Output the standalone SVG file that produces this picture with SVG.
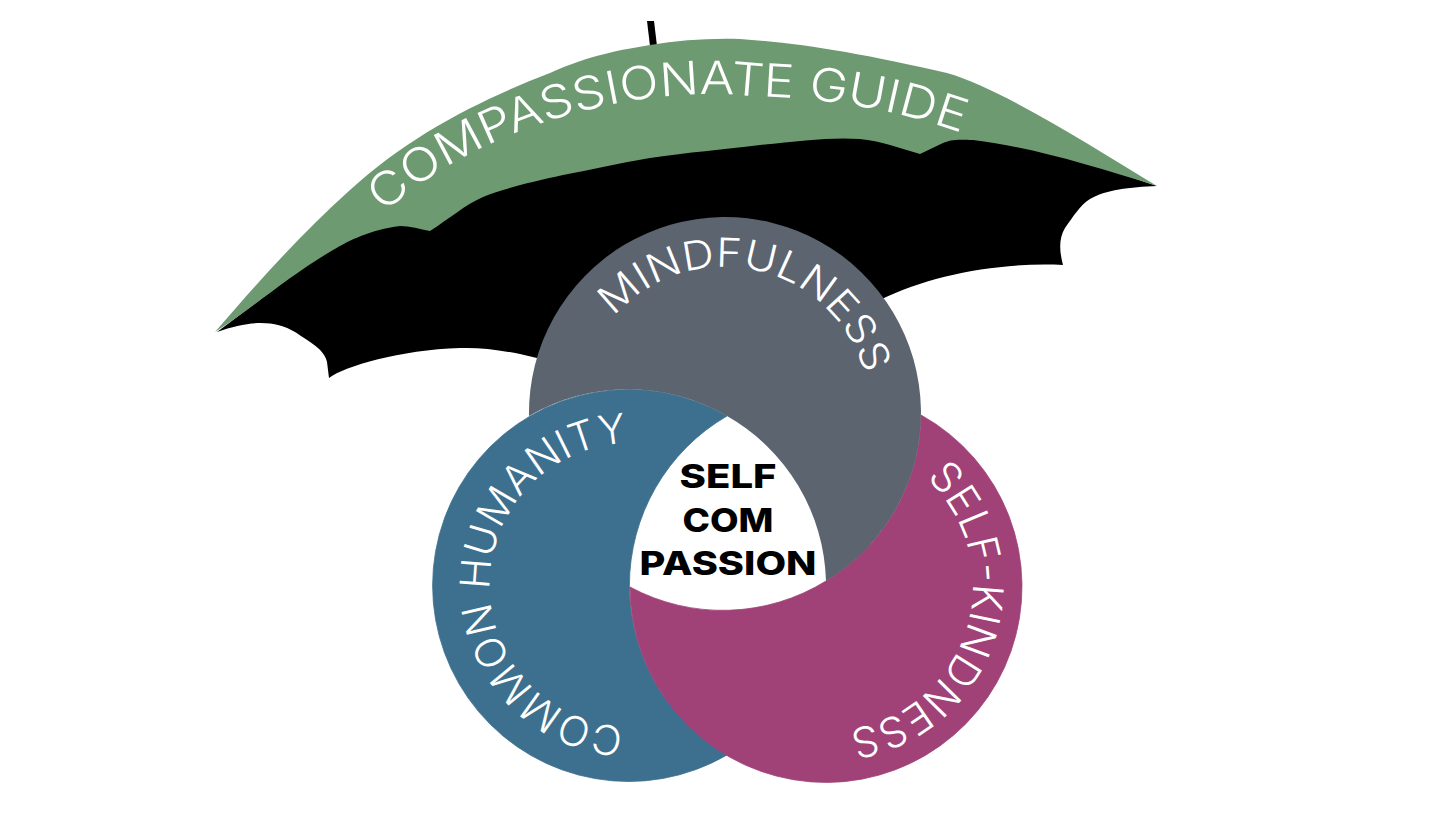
<svg xmlns="http://www.w3.org/2000/svg" width="1456" height="819" viewBox="0 0 1456 819">
<style>
.arc{font-family:"Inter","Noto Sans",sans-serif;font-weight:300;fill:#fff}
.c{font-family:"Inter","Noto Sans",sans-serif;font-weight:800;font-size:33px;fill:#000;text-anchor:middle}
</style>
<defs>
<path id="pu" d="M384,213 C470,134 620,84 750,96 C830,98 900,110 970,136"/>
<path id="pg" d="M614,317 A146,146 0 0 1 866,378"/>
<path id="pb" d="M624,727 A142,142 0 1 1 640,443"/>
<path id="pm" d="M926,478 A146,146 0 0 1 846,730"/>
</defs>
<rect width="1456" height="819" fill="#fff"/>
<g id="umbrella">
<path fill="#000" d="M647,21 L654,21 L657,46 L650,46Z"/>
<path fill="#000" d="M217,332 C250,320 275,320 295,332 C310,342 325,350 327,362 L329,378 C345,366 400,350 460,348 C490,347 520,353 560,364 L880,300 C930,275 1000,262 1063,265 C1059,250 1059,238 1065,228 C1073,217 1080,205 1090,199 C1105,190 1130,187 1157,186 L900,100 L500,120Z"/>
<path fill="#6e9a72" d="M215,332 C260,280 300,235 350,190 C410,135 480,100 550,73 C590,55 620,50 650,45 C680,40 710,38 740,39 C800,43 860,53 947,73 C1000,88 1090,145 1157,186 C1090,165 1030,147 973,140 C955,139 950,140 943,143 L920,154 C900,148 880,141 860,139 C830,137 800,141 760,145 C720,150 690,152 650,158 C620,163 590,170 563,175 C530,182 500,190 483,197 C465,205 450,218 430,231 C420,229 410,226 400,226 C370,230 350,240 333,250 C290,275 250,310 215,332Z"/>
<text class="arc" font-size="46"><textPath href="#pu" textLength="610" lengthAdjust="spacingAndGlyphs">COMPASSIONATE GUIDE</textPath></text>
</g>
<g id="common-humanity">
<path fill="#3d708e" stroke="#3d708e" stroke-width="0.8" d="M727,416 A196,196 0 1 0 727,755 A196,196 0 0 1 727,416Z"/>
<text class="arc" font-size="41"><textPath href="#pb" textLength="434" lengthAdjust="spacingAndGlyphs">COMMON HUMANITY</textPath></text>
</g>
<g id="self-kindness">
<path fill="#a04277" stroke="#a04277" stroke-width="0.8" d="M921,415 A196,196 0 1 1 630,587 A196,196 0 0 0 826,581 A196,196 0 0 0 921,415Z"/>
<text class="arc" font-size="42"><textPath href="#pm" textLength="327" lengthAdjust="spacingAndGlyphs">SELF-KINDNESS</textPath></text>
</g>
<g id="mindfulness">
<path fill="#5c6470" d="M529,416 A196,196 0 1 1 826,581 A196,196 0 0 0 727,416 A196,196 0 0 0 529,416Z"/>
<text class="arc" font-size="40"><textPath href="#pg" textLength="315" lengthAdjust="spacingAndGlyphs">MINDFULNESS</textPath></text>
</g>
<g id="self-compassion">
<text class="c" x="728" y="488" textLength="97" lengthAdjust="spacingAndGlyphs">SELF</text>
<text class="c" x="728" y="532" textLength="91" lengthAdjust="spacingAndGlyphs">COM</text>
<text class="c" x="728" y="575" textLength="177" lengthAdjust="spacingAndGlyphs">PASSION</text>
</g>
<g id="connectors"/>
</svg>
